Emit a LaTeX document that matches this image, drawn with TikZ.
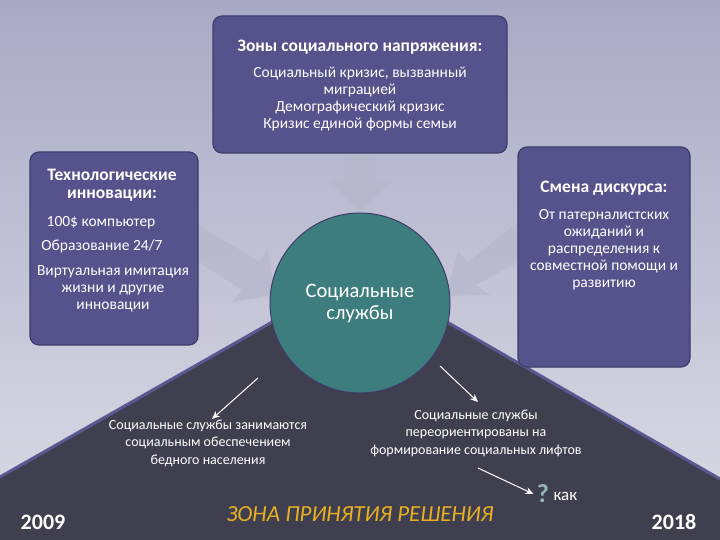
\documentclass[tikz,border=0pt]{standalone}
\usepackage{fontspec}
\setmainfont{Carlito}
\usetikzlibrary{arrows.meta}
\definecolor{bgtop}{HTML}{A9A9C6}
\definecolor{bgbot}{HTML}{DCDCE6}
\definecolor{boxfill}{HTML}{55528C}
\definecolor{boxedge}{HTML}{3E3C6A}
\definecolor{dark}{HTML}{3F3F4F}
\definecolor{darkedge}{HTML}{5A5890}
\definecolor{teal}{HTML}{3E7D7E}
\definecolor{ghost}{HTML}{B8B8CC}
\definecolor{zone}{HTML}{E8B020}
\tikzset{
  infobox/.style={draw=boxedge,line width=1.2pt,fill=boxfill,rounded corners=9pt},
  txt/.style={text=white,align=center,font=\fontsize{15.5}{17}\selectfont,inner sep=0pt},
  ttl/.style={text=white,align=center,font=\bfseries\fontsize{17.5}{18}\selectfont,inner sep=0pt},
  ghostarrow/.style={fill=ghost,draw=none,opacity=0.8},
  wa/.style={draw=white,line width=1pt,-{Stealth[length=8pt,width=7pt]}}
}
\begin{document}
\begin{tikzpicture}[x=1pt,y=-1pt]
\useasboundingbox (0,0) rectangle (720,540);
\shade[top color=bgtop,bottom color=bgbot] (0,0) rectangle (720,540);
\fill[dark] (0,477) -- (360,272) -- (720,479) -- (720,540) -- (0,540) -- cycle;
\draw[darkedge,line width=3pt] (0,477) -- (360,272) -- (720,479);
\fill[ghostarrow] (345,153) -- (375,153) -- (375,180) -- (392,180) -- (360,212) -- (328,180) -- (345,180) -- cycle;
\fill[ghostarrow] (198,225) -- (260,262) -- (268,248) -- (275,295) -- (232,302) -- (242,290) -- (198,262) -- cycle;
\fill[ghostarrow] (518,222) -- (518,262) -- (476,285) -- (490,295) -- (445,296) -- (458,252) -- (468,262) -- cycle;
\node[infobox,minimum width=294pt,minimum height=137pt] (top) at (360,84.5) {};
\node[infobox,minimum width=168pt,minimum height=193pt] (left) at (114,248.5) {};
\node[infobox,minimum width=172pt,minimum height=220pt] (right) at (604,257) {};
\node[ttl] (topt) at (360,47) {Зоны социального напряжения:};
\node[txt] (topb) at (360,99) {Социальный кризис, вызванный\\миграцией\\Демографический кризис\\Кризис единой формы семьи};
\node[ttl] (leftt) at (112,185) {Технологические\\инновации:};
\node[txt] (l1) at (101,223) {100\$ компьютер};
\node[txt] (l2) at (102,246) {Образование 24/7};
\node[txt] (l3) at (113,289) {Виртуальная имитация\\жизни и другие\\инновации};
\node[ttl] (rightt) at (604,188) {Смена дискурса:};
\node[txt] (rightb) at (604,250) {От патерналистских\\ожиданий и\\распределения к\\совместной помощи и\\развитию};
\node[circle,draw=boxedge,line width=1pt,fill=teal,minimum size=180pt] (c) at (360,303) {};
\node[text=white,align=center,font=\fontsize{20.5}{22}\selectfont] (ct) at (360,303) {Социальные\\службы};
\node[txt,font=\fontsize{14}{17.5}\selectfont] (bl) at (208,443) {Социальные службы занимаются\\социальным обеспечением\\бедного населения};
\node[txt,font=\fontsize{14}{17.5}\selectfont] (br) at (476,433) {Социальные службы\\переориентированы на\\формирование социальных лифтов};
\node[font=\bfseries\fontsize{26}{28}\selectfont,text=teal!55!white] (q) at (543,494) {?};
\node[text=white,font=\fontsize{17}{18}\selectfont,anchor=west] (kak) at (550,496) {как};
\coordinate (a1) at (258,378); \coordinate (a2) at (440,366); \coordinate (a2e) at (478,402);
\coordinate (a3) at (478,468);
\draw[wa] (a1) -- (212,419);
\draw[wa] (a2) -- (a2e);
\draw[wa] (a3) -- (q.west);
\node[text=zone,font=\itshape\fontsize{23}{25}\selectfont] (zone) at (360,514) {ЗОНА ПРИНЯТИЯ РЕШЕНИЯ};
\node[text=white,font=\bfseries\fontsize{22}{24}\selectfont] (y1) at (43,522) {2009};
\node[text=white,font=\bfseries\fontsize{22}{24}\selectfont] (y2) at (674,522) {2018};
\end{tikzpicture}
\end{document}
